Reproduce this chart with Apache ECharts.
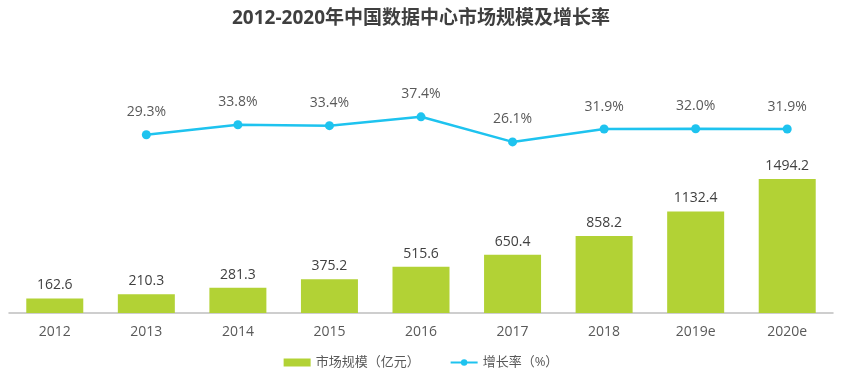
<!DOCTYPE html>
<html><head><meta charset="utf-8">
<script src="https://cdn.jsdelivr.net/npm/echarts@6/dist/echarts.min.js"></script>
<style>html,body{margin:0;padding:0;background:#fff}#c{width:842px;height:380px}</style>
</head><body><div id="c"></div>
<script>
var categories = ['2012','2013','2014','2015','2016','2017','2018','2019e','2020e'];
var marketSize = [162.6,210.3,281.3,375.2,515.6,650.4,858.2,1132.4,1494.2];
var growthRate = [null,29.3,33.8,33.4,37.4,26.1,31.9,32.0,31.9];
var titleText = '2012-2020年中国数据中心市场规模及增长率';
var barName = '市场规模（亿元）';
var lineName = '增长率（%）';

var font = '"Open Sans","Noto Sans CJK SC",sans-serif';
var chart = echarts.init(document.getElementById('c'));
chart.setOption({
  animation:false,
  title:{text:titleText,left:'center',top:4,textStyle:{fontFamily:font,fontSize:19,fontWeight:'bold',color:'#3f3f3f'}},
  legend:{bottom:6,left:'center',itemGap:30,textStyle:{fontFamily:font,fontSize:13,color:'#595959'},
    data:[{name:barName,icon:'rect'},{name:lineName}],itemWidth:27,itemHeight:8},
  grid:{left:9,right:9,top:60,bottom:67},
  xAxis:{type:'category',data:categories,axisLine:{lineStyle:{color:'#bfbfbf',width:1.5}},axisTick:{show:false},
    axisLabel:{fontFamily:font,fontSize:14,color:'#595959',margin:12}},
  yAxis:[
    {type:'value',min:0,max:2821,show:false,splitLine:{show:false}},
    {type:'value',min:-51,max:63,show:false,splitLine:{show:false}}
  ],
  series:[
    {name:barName,type:'bar',data:marketSize,barWidth:57,itemStyle:{color:'#b2d235'},
      label:{show:true,position:'top',distance:6,fontFamily:font,fontSize:14,color:'#404040',formatter:function(p){return p.value.toFixed(1);}}},
    {name:lineName,type:'line',yAxisIndex:1,data:growthRate,symbol:'circle',symbolSize:9,
      lineStyle:{color:'#1ec3ef',width:2.5},itemStyle:{color:'#1ec3ef'},
      label:{show:true,position:'top',distance:11,fontFamily:font,fontSize:14,color:'#595959',formatter:function(p){return p.value.toFixed(1)+'%';}}}
  ]
});
</script></body></html>
